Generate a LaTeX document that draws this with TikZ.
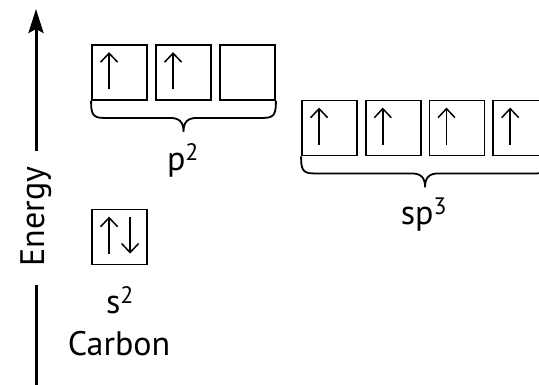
\documentclass[tikz,border=0pt]{standalone}
\usepackage{fontspec}
\setmainfont{PT Sans}
\usetikzlibrary{arrows.meta,calc}
\newcommand\orbbrace[2]{%
  \draw[brc] let \p1=(#1.south west), \p2=(#2.south east), \n1={(\x1+\x2)/2} in
    (\x1,\y1) .. controls (\x1,\y1-12pt) and (\x1+1pt,\y1-17pt) .. (\x1+12pt,\y1-17pt)
    -- (\n1-14pt,\y1-17pt) .. controls (\n1-4pt,\y1-17pt) and (\n1,\y1-21pt) .. (\n1,\y1-31pt)
    .. controls (\n1,\y1-21pt) and (\n1+4pt,\y1-17pt) .. (\n1+14pt,\y1-17pt)
    -- (\x2-12pt,\y1-17pt) .. controls (\x2-1pt,\y1-17pt) and (\x2,\y1-12pt) .. (\x2,\y1);}
\begin{document}
\begin{tikzpicture}[x=1pt,y=1pt,
  orb/.style={draw, line width=1.8pt, minimum width=55pt, minimum height=55pt, inner sep=0pt},
  spin/.style={line width=1.5pt, -{Straight Barb[length=9pt,width=17pt,line width=1.5pt]}},
  brc/.style={line width=1.8pt},
  lbl/.style={font=\fontsize{34}{40}\selectfont, inner sep=0pt, anchor=base},
  axis/.style={line width=3pt}]
\useasboundingbox (0,0) rectangle (539,384);
% orbital boxes
\node[orb] (p1) at (119.5,311.5) {};
\node[orb] (p2) at (183.5,311.5) {};
\node[orb] (p3) at (247.5,311.5) {};
\node[orb] (h1) at (329.5,256) {};
\node[orb] (h2) at (393.2,256) {};
\node[orb] (h3) at (456.9,256) {};
\node[orb] (h4) at (520.6,256) {};
\node[orb] (s1) at (119.5,147) {};
% electrons
\foreach \b in {p1,p2,h1,h2,h3,h4}{
  \draw[spin] ([shift={(18,-45)}]\b.north west) -- ([shift={(18,-8)}]\b.north west);
}
\draw[spin] ([shift={(18,-45)}]s1.north west) -- ([shift={(18,-8)}]s1.north west);
\draw[spin] ([shift={(39,-8)}]s1.north west) -- ([shift={(39,-45)}]s1.north west);
% braces
\orbbrace{p1}{p3}
\orbbrace{h1}{h4}
% labels
\node[lbl] (pl) at (183,214) {p\textsuperscript{2}};
\node[lbl] (spl) at (424,160) {sp\textsuperscript{3}};
\node[lbl] (sl) at (120,71) {s\textsuperscript{2}};
\node[lbl] (cl) at (119,29) {Carbon};
% energy axis
\coordinate (atop) at (36,375);
\coordinate (abot) at (36,-4);
\node[lbl, rotate=90] (en) at (45,167.5) {Energy};
\draw[axis, -{Stealth[length=24pt,width=15pt,inset=4pt]}] ([yshift=15pt]atop |- en.east) -- (atop);
\draw[axis] ([yshift=-18pt]atop |- en.west) -- (abot);
\end{tikzpicture}
\end{document}
